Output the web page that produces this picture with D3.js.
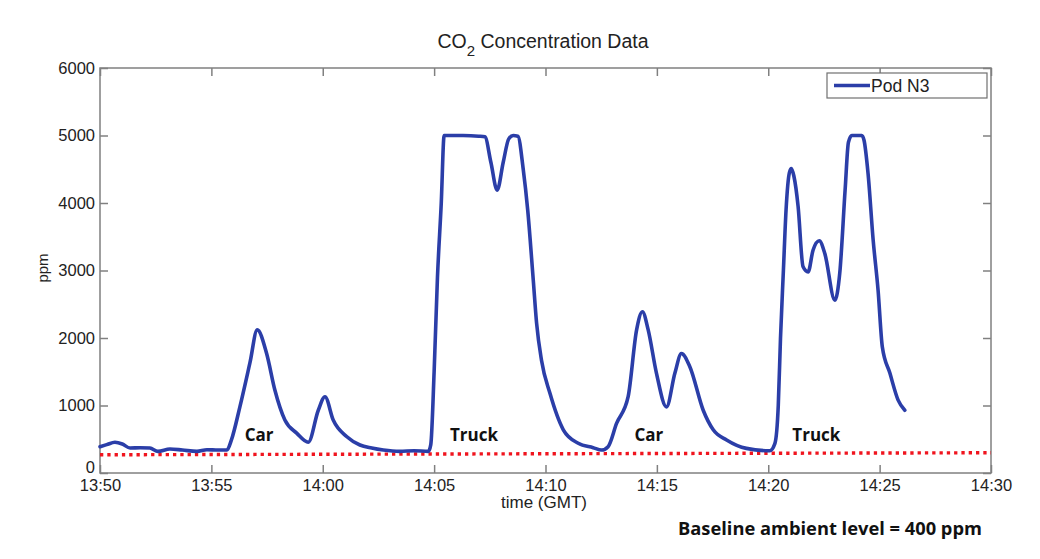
<!DOCTYPE html>
<html><head><meta charset="utf-8">
<script src="https://cdn.jsdelivr.net/npm/d3@7"></script>
<style>body{margin:0;background:#fff}svg{display:block}</style>
</head><body>
<svg id="c" width="1040" height="559"></svg>
<script>
// minutes after 13:50 GMT
const minutes = [0,0.3,0.67,1.0,1.35,1.8,2.24,2.6,3.14,3.7,4.35,4.8,5.3,5.7,5.9,6.28,6.73,7.06,7.48,7.85,8.3,8.83,9.35,9.8,10.1,10.47,11.07,11.67,12.2,12.72,13.46,14.1,14.74,14.85,15.0,15.15,15.32,15.45,16.3,17.0,17.28,17.55,17.83,18.1,18.35,18.55,18.76,19.0,19.2,19.45,19.6,19.82,20.2,20.8,21.47,22.14,22.52,22.81,23.19,23.71,24.09,24.35,24.61,24.98,25.43,25.81,26.1,26.48,27.08,27.53,28.13,29.02,30.07,30.3,30.45,30.55,30.68,30.8,30.95,31.04,31.15,31.34,31.56,31.79,32.01,32.29,32.54,32.99,33.21,33.45,33.6,33.75,34.2,34.3,34.48,34.71,34.93,35.12,35.46,35.83,36.13];
const ppm = [390,420,455,430,370,375,370,320,355,340,320,345,340,340,490,980,1630,2120,1770,1230,785,590,455,930,1130,785,540,415,370,340,320,330,320,420,1500,2900,4000,5000,5000,4990,4980,4600,4190,4600,4950,5000,4990,4500,3900,2860,2220,1670,1180,640,440,375,340,390,735,1130,2120,2390,2120,1480,980,1480,1770,1575,930,640,490,365,330,440,1000,2000,3000,3900,4450,4510,4400,3950,3060,2980,3300,3440,3250,2560,2960,4190,4900,5000,5000,4930,4440,3450,2710,1870,1480,1080,930];
const baselineMinutes = [0, 40];
const baselinePpm = [270, 300];
const xTickLabels = ["13:50","13:55","14:00","14:05","14:10","14:15","14:20","14:25","14:30"];
const yTicks = [0,1000,2000,3000,4000,5000,6000];
const annotLabels = ["Car","Truck","Car","Truck"];
const annotMinutes = [7.14, 16.79, 24.64, 32.16];

const svg = d3.select("#c");
const L=100, R=991, T=68, B=473;
const base = new Date(2000,0,1,13,50,0);
const toDate = m => new Date(base.getTime() + m*60000);
const x = d3.scaleTime().domain([toDate(0), toDate(40)]).range([L,R]);
const y = d3.scaleLinear().domain([0,6000]).range([B,T]);
const tickDates = xTickLabels.map(s => { const [h,mm]=s.split(":").map(Number); return new Date(2000,0,1,h,mm,0); });
const fmt = d3.timeFormat("%H:%M");
const axisColor = "#808080";
const font = "Liberation Sans, Arial, sans-serif";

// plot frame
svg.append("rect").attr("x",L).attr("y",T).attr("width",R-L).attr("height",B-T)
  .attr("fill","none").attr("stroke",axisColor).attr("stroke-width",1.5);

function style(g, labels){
  g.select(".domain").remove();
  g.selectAll(".tick line").attr("stroke",axisColor).attr("stroke-width",1.5);
  g.selectAll(".tick text").attr("fill","#222").style("font-family",font).style("font-size","16.5px");
  if(!labels) g.selectAll(".tick text").remove();
}
svg.append("g").attr("transform",`translate(0,${B})`)
  .call(d3.axisBottom(x).tickValues(tickDates).tickFormat(fmt).tickSizeInner(-8).tickSizeOuter(0).tickPadding(6))
  .call(g=>style(g,true));
svg.append("g").attr("transform",`translate(0,${T})`)
  .call(d3.axisTop(x).tickValues(tickDates).tickSizeInner(-8).tickSizeOuter(0))
  .call(g=>style(g,false));
svg.append("g").attr("transform",`translate(${L},0)`)
  .call(d3.axisLeft(y).tickValues(yTicks).tickFormat(d3.format("d")).tickSizeInner(-8).tickSizeOuter(0).tickPadding(5))
  .call(g=>style(g,true))
  .call(g=>g.selectAll(".tick text").filter(d=>d===0).attr("dy","-0.05em"));
svg.append("g").attr("transform",`translate(${R},0)`)
  .call(d3.axisRight(y).tickValues(yTicks).tickSizeInner(-8).tickSizeOuter(0))
  .call(g=>style(g,false));

// baseline dotted red
svg.append("line")
  .attr("x1",x(toDate(baselineMinutes[0]))).attr("y1",y(baselinePpm[0]))
  .attr("x2",x(toDate(baselineMinutes[1]))).attr("y2",y(baselinePpm[1]))
  .attr("stroke","#f0141e").attr("stroke-width",3.4).attr("stroke-dasharray","3.3,4");

// data line
const data = minutes.map((m,i)=>({d:toDate(m), v:ppm[i]}));
svg.append("path").datum(data)
  .attr("fill","none").attr("stroke","#2b3ea8").attr("stroke-width",3.6)
  .attr("stroke-linejoin","round").attr("stroke-linecap","round")
  .attr("d", d3.line().x(d=>x(d.d)).y(d=>y(d.v)).curve(d3.curveMonotoneX));

// title
const title = svg.append("text").attr("x",543).attr("y",48).attr("text-anchor","middle")
  .style("font-family",font).style("font-size","19.5px").attr("fill","#222");
title.append("tspan").text("CO");
title.append("tspan").attr("dy",8).style("font-size","15px").text("2");
title.append("tspan").attr("dy",-8).text(" Concentration Data");

// axis labels
svg.append("text").attr("x",544).attr("y",508).attr("text-anchor","middle")
  .style("font-family",font).style("font-size","17px").attr("fill","#222").text("time (GMT)");
svg.append("text").attr("transform","translate(48,268) rotate(-90)").attr("text-anchor","middle")
  .style("font-family",font).style("font-size","15px").attr("fill","#222").text("ppm");

// legend
svg.append("rect").attr("x",827).attr("y",73).attr("width",160).attr("height",25)
  .attr("fill","#fff").attr("stroke","#707070").attr("stroke-width",1.2);
svg.append("line").attr("x1",834).attr("x2",870).attr("y1",85.5).attr("y2",85.5)
  .attr("stroke","#2b3ea8").attr("stroke-width",3.6);
svg.append("text").attr("x",871).attr("y",92).style("font-family",font).style("font-size","17.5px")
  .attr("fill","#222").text("Pod N3");

// annotations
svg.selectAll("text.ann").data(annotLabels).enter().append("text").attr("class","ann")
  .attr("x",(d,i)=>x(toDate(annotMinutes[i]))).attr("y",441).attr("text-anchor","middle")
  .style("font-family","Open Sans, sans-serif").style("font-weight","bold").style("font-size","17px")
  .attr("fill","#111").text(d=>d);

svg.append("text").attr("x",830).attr("y",535).attr("text-anchor","middle")
  .style("font-family","Open Sans, sans-serif").style("font-weight","bold").style("font-size","18.3px")
  .attr("fill","#111").text("Baseline ambient level = 400 ppm");
</script>
</body></html>
